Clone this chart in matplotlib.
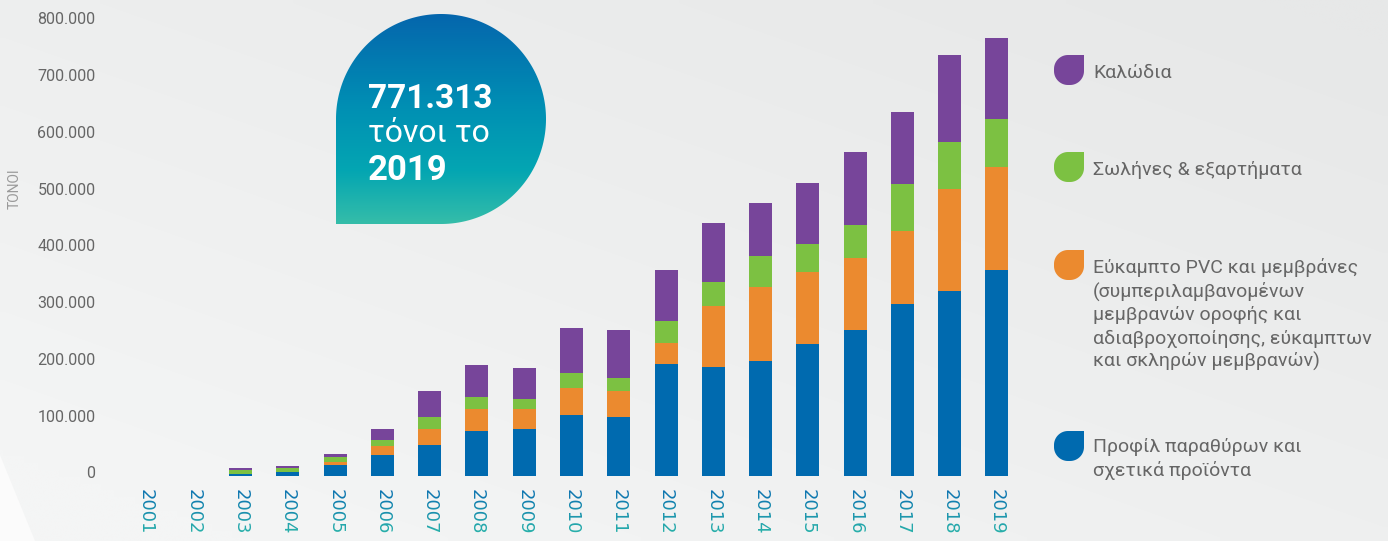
import numpy as np
import matplotlib
matplotlib.use('Agg')
import matplotlib.pyplot as plt
from matplotlib.path import Path
from matplotlib.patches import PathPatch, Polygon
from matplotlib.transforms import Bbox, TransformedBbox, ScaledTranslation
from matplotlib.colors import LinearSegmentedColormap, to_rgb

# ---------------- data ----------------
years = [str(y) for y in range(2001, 2020)]
profiles = [0, 0, 3000, 7000, 19400, 36400, 54600, 79200, 82700, 107400, 103900,
            197200, 191900, 202500, 232400, 257000, 302800, 325700, 362700]
flexible = [0, 0, 1000, 900, 5800, 16400, 28200, 38700, 35200, 48100, 45800,
            37000, 107400, 130300, 126800, 126800, 128500, 179600, 181300]
pipes = [0, 0, 6500, 6500, 8300, 10000, 21100, 21100, 17600, 25900, 22900,
         38700, 42300, 54600, 49300, 58100, 82700, 82700, 84500]
cables = [0, 0, 3500, 3500, 5300, 19900, 45800, 56300, 54600, 79200, 84500,
          89800, 103900, 93300, 107400, 128500, 126800, 153200, 142813]
yticks = [0, 100000, 200000, 300000, 400000, 500000, 600000, 700000, 800000]
ytick_labels = ["0", "100.000", "200.000", "300.000", "400.000", "500.000",
                "600.000", "700.000", "800.000"]
y_label = "ΤΟΝΟΙ"
bubble_lines = ["771.313", "τόνοι το", "2019"]
legend_cables = ["Καλώδια"]
legend_pipes = ["Σωλήνες & εξαρτήματα"]
legend_flexible = ["Εύκαμπτο PVC και μεμβράνες", "(συμπεριλαμβανομένων",
                   "μεμβρανών οροφής και", "αδιαβροχοποίησης, εύκαμπτων",
                   "και σκληρών μεμβρανών)"]
legend_profiles = ["Προφίλ παραθύρων και", "σχετικά προϊόντα"]

C_BLUE = "#006aaf"
C_ORANGE = "#eb8a2f"
C_GREEN = "#7cc142"
C_PURPLE = "#77459a"
TXT = "#666666"

plt.rcParams['font.family'] = ['Roboto', 'DejaVu Sans']

W, H, DPI = 1388, 541, 100
fig = plt.figure(figsize=(W / DPI, H / DPI), dpi=DPI)

# ---------------- background ----------------
bg = fig.add_axes([0, 0, 1, 1], zorder=-10)
bg.set_axis_off()
gx, gy = np.meshgrid(np.linspace(0, 1, 200), np.linspace(0, 1, 80))
t = np.clip(0.55 * gx + 0.6 * (1 - gy) - 0.1, 0, 1)  # gy=0 top
c_light = np.array(to_rgb("#f4f5f5"))
c_dark = np.array(to_rgb("#e7e8e8"))
img = c_light[None, None, :] * (1 - t[..., None]) + c_dark[None, None, :] * t[..., None]
bg.imshow(img, extent=(0, W, H, 0), aspect='auto', interpolation='bilinear')
bg.set_xlim(0, W)
bg.set_ylim(H, 0)
bg.add_patch(Polygon([(0, 455), (0, H), (35, H)], closed=True, color="#fbfbfb", lw=0))

# ---------------- main axes ----------------
x_left, x_right = 122.4, 1020.6
y_base, px_per_100k = 476.0, 56.8
ymax = 820000
ax_h = ymax / 100000 * px_per_100k
ax = fig.add_axes([x_left / W, (H - y_base) / H, (x_right - x_left) / W, ax_h / H])
ax.set_facecolor('none')
for s in ax.spines.values():
    s.set_visible(False)

x = np.arange(len(years))
bw = 0.486
b1 = np.array(profiles, float)
b2 = b1 + np.array(flexible, float)
b3 = b2 + np.array(pipes, float)
ax.bar(x, profiles, width=bw, color=C_BLUE, lw=0)
ax.bar(x, flexible, width=bw, bottom=b1, color=C_ORANGE, lw=0)
ax.bar(x, pipes, width=bw, bottom=b2, color=C_GREEN, lw=0)
ax.bar(x, cables, width=bw, bottom=b3, color=C_PURPLE, lw=0)
ax.set_xlim(-0.5, len(years) - 0.5)
ax.set_ylim(0, ymax)

ax.set_yticks(yticks, ytick_labels)
ax.tick_params(axis='y', length=0, pad=19.4, labelsize=11.5, labelcolor=TXT)
for lab in ax.get_yticklabels():
    lab.set_transform(lab.get_transform() + ScaledTranslation(0, 0.035, fig.dpi_scale_trans))
ax.set_xticks(x, [""] * len(x))
ax.tick_params(axis='x', length=0)

# x labels with vertical colour gradient (blue top -> teal bottom)
c_top = np.array(to_rgb("#0a6db1"))
c_bot = np.array(to_rgb("#2cbaa9"))
lab_top, lab_bot = 489.0, 538.0
nb = 10
xtrans = ax.get_xaxis_transform() + ScaledTranslation(0, -(lab_top - y_base) / DPI, fig.dpi_scale_trans)
for i in range(nb):
    y0 = lab_top - 2 + (lab_bot - lab_top + 4) * i / nb
    y1 = lab_top - 2 + (lab_bot - lab_top + 4) * (i + 1) / nb
    f = (i + 0.5) / nb
    col = c_top * (1 - f) + c_bot * f
    clip = TransformedBbox(Bbox([[0, (H - y1) / DPI], [W / DPI, (H - y0) / DPI]]), fig.dpi_scale_trans)
    for xi, yr in zip(x, years):
        tt = ax.text(xi, 0, yr, transform=xtrans, rotation=270, ha='center', va='top',
                     fontsize=13, color=col, clip_on=True, family=['DejaVu Sans'])
        tt.set_clip_box(clip)

# ---------------- overlay (bubble, legend, axis title) ----------------
ov = fig.add_axes([0, 0, 1, 1], zorder=5)
ov.set_facecolor('none')
ov.set_axis_off()

# bubble
cx, cy, r = 441.0, 119.0, 105.0
th = np.linspace(np.pi, -np.pi / 2, 200)
pts = [(cx - r, cy + r), (cx - r, cy)] + [(cx + r * np.cos(a), cy - r * np.sin(a)) for a in th] + [(cx - r, cy + r)]
bpath = Path(pts, closed=True)
bpatch = PathPatch(bpath, facecolor='none', edgecolor='none')
ov.add_patch(bpatch)
cmap = LinearSegmentedColormap.from_list('bub', [(0, "#0566ad"), (0.45, "#0090b4"),
                                                 (0.75, "#04a6b2"), (1, "#35bda9")])
grad = np.linspace(0, 1, 256)[:, None] * np.ones((1, 4))
im = ov.imshow(grad, cmap=cmap, extent=(cx - r, cx + r, cy + r, cy - r), aspect='auto',
               interpolation='bilinear')
im.set_clip_path(bpatch)
ov.text(368, 108, bubble_lines[0], fontsize=24, fontweight='bold', color='white', va='baseline', ha='left')
ov.text(368, 142, bubble_lines[1], fontsize=23, color='white', va='baseline', ha='left')
ov.text(368, 180, bubble_lines[2], fontsize=25, fontweight='bold', color='white', va='baseline', ha='left')


def leaf(x0, y0, s, rr, color):
    # rounded square with square top-right corner (y downwards)
    p = []
    for a in np.linspace(np.pi, np.pi / 2, 20):  # top-left
        p.append((x0 + rr + rr * np.cos(a), y0 + rr - rr * np.sin(a)))
    p.append((x0 + s, y0))  # top-right square
    for a in np.linspace(0, -np.pi / 2, 20):  # bottom-right
        p.append((x0 + s - rr + rr * np.cos(a), y0 + s - rr - rr * np.sin(a)))
    for a in np.linspace(-np.pi / 2, -np.pi, 20):  # bottom-left
        p.append((x0 + rr + rr * np.cos(a), y0 + s - rr - rr * np.sin(a)))
    ov.add_patch(Polygon(p, closed=True, facecolor=color, edgecolor='none'))


leaf(1054, 55, 30, 14, C_PURPLE)
leaf(1054, 152, 30, 14, C_GREEN)
leaf(1054, 250, 30, 14, C_ORANGE)
leaf(1054, 431, 30, 14, C_BLUE)

tx = 1093
lsp = 23.5
for lines, base in [(legend_cables, 78), (legend_pipes, 175), (legend_flexible, 273), (legend_profiles, 452)]:
    for k, line in enumerate(lines):
        ov.text(tx, base + k * lsp, line, fontsize=14, color=TXT,
                va='baseline', ha='left')

ov.text(15, 189, y_label, rotation=90, fontsize=10, color="#9a9a9a", ha='center', va='center')

ov.set_xlim(0, W)
ov.set_ylim(H, 0)

fig.savefig("out.png", dpi=DPI)
